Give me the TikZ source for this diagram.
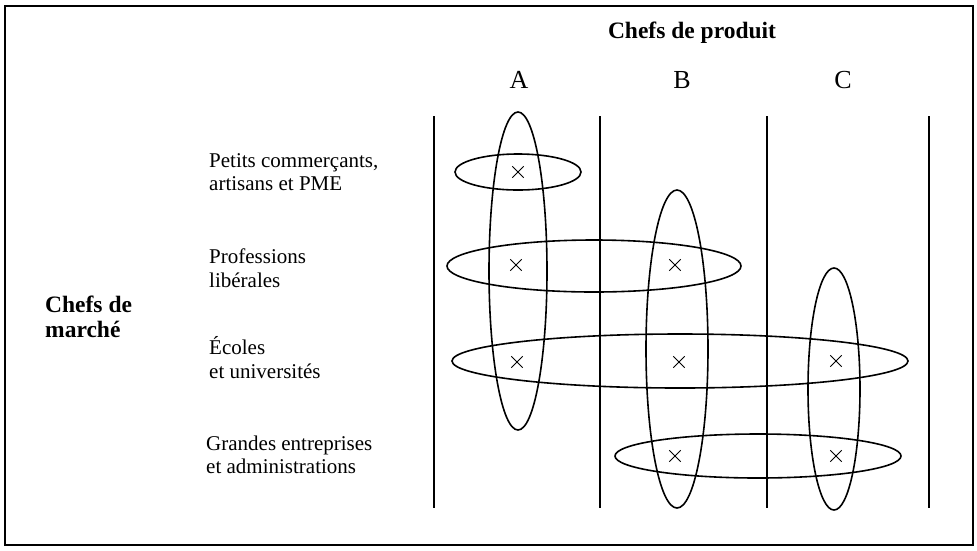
\documentclass[tikz,border=0pt]{standalone}
\usepackage{fontspec}
\setmainfont{Liberation Serif}
\usetikzlibrary{shapes.misc}
\tikzset{
  lbl/.style={anchor=base west, font=\fontsize{21}{24}\selectfont, inner sep=0pt, align=left},
  bold/.style={anchor=base west, font=\fontsize{23.5}{25}\selectfont\bfseries, inner sep=0pt, align=left},
  colhead/.style={anchor=base, font=\fontsize{26}{30}\selectfont, inner sep=0pt},
  vline/.style={line width=1.8pt},
  ell/.style={line width=1.6pt},
  xmark/.style={cross out, draw, line width=0.9pt, minimum size=10.5pt, inner sep=0pt},
}
\begin{document}
\begin{tikzpicture}[x=1pt,y=-1pt]
\useasboundingbox (0,0) rectangle (977,550);
\draw[line width=1.3pt] (5,6) rectangle (973,545);
% headings
\node[bold, anchor=base] (cp) at (692,38) {Chefs de produit};
\node[colhead] (A) at (519,88) {A};
\node[colhead] (B) at (682,88) {B};
\node[colhead] (C) at (843,88) {C};
\node[bold] (cm1) at (45,312) {Chefs de};
\node[bold] (cm2) at (45,337) {marché};
% row labels
\node[lbl] (r1a) at (209,167) {Petits commerçants,};
\node[lbl] (r1b) at (209,190) {artisans et PME};
\node[lbl] (r2a) at (209,263) {Professions};
\node[lbl] (r2b) at (209,287) {libérales};
\node[lbl] (r3a) at (209,354) {Écoles};
\node[lbl] (r3b) at (209,378) {et universités};
\node[lbl] (r4a) at (206,450) {Grandes entreprises};
\node[lbl] (r4b) at (206,473) {et administrations};
% vertical lines
\draw[vline] (434,116) -- (434,508);
\draw[vline] (600,116) -- (600,508);
\draw[vline] (767,116) -- (767,508);
\draw[vline] (929,116) -- (929,508);
% ellipses
\draw[ell] (518,271) ellipse [x radius=29, y radius=159];
\draw[ell] (518,172) ellipse [x radius=63, y radius=18];
\draw[ell] (594,266) ellipse [x radius=147, y radius=26];
\draw[ell] (680,361) ellipse [x radius=228, y radius=27];
\draw[ell] (677,349) ellipse [x radius=31, y radius=159];
\draw[ell] (834,389) ellipse [x radius=26, y radius=121];
\draw[ell] (758,456) ellipse [x radius=143, y radius=22];
% crosses
\node[xmark] (x1) at (518,172) {};
\node[xmark] (x2) at (516,265) {};
\node[xmark] (x3) at (675,265) {};
\node[xmark] (x4) at (517,362) {};
\node[xmark] (x5) at (679,362) {};
\node[xmark] (x6) at (836,361) {};
\node[xmark] (x7) at (675,456) {};
\node[xmark] (x8) at (836,456) {};
\end{tikzpicture}
\end{document}
